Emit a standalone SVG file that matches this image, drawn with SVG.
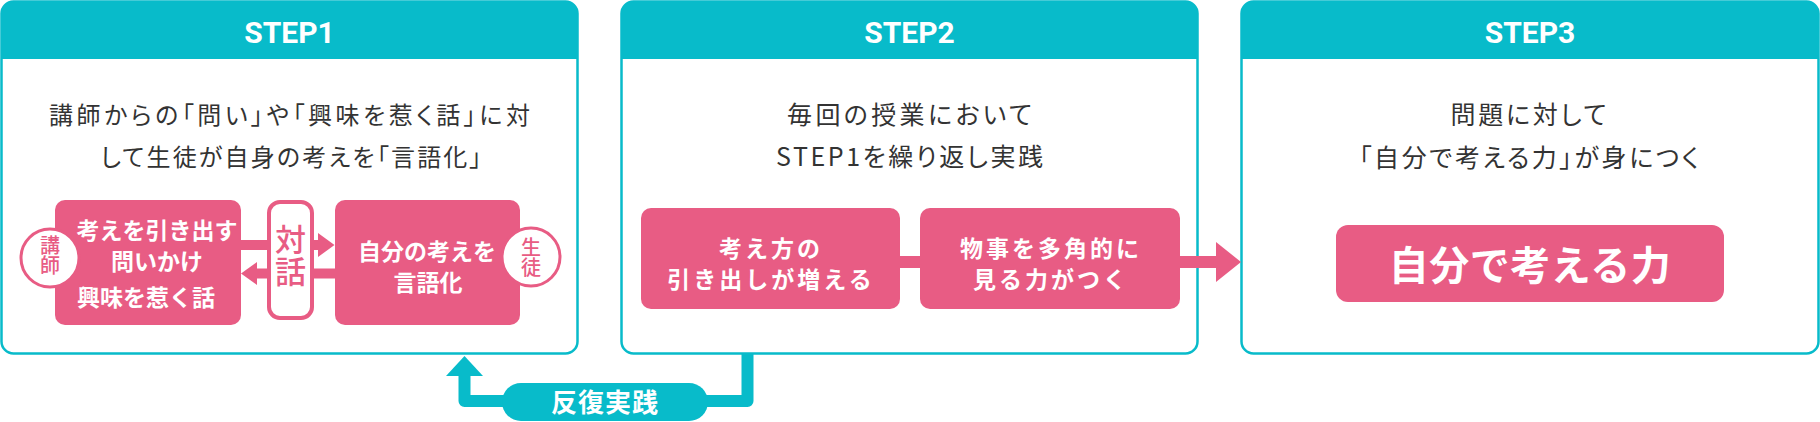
<svg xmlns="http://www.w3.org/2000/svg" width="1820" height="422" viewBox="0 0 1820 422">
<defs>
<style>
.frame{fill:#ffffff;stroke:#08bbca;stroke-width:2.5}
.head{fill:#08bbca}
.htxt{font-family:Roboto,"Liberation Sans",sans-serif;font-weight:700;font-size:30px;fill:#ffffff;text-anchor:middle}
.body{font-family:"Noto Sans CJK JP",sans-serif;font-weight:400;font-size:25px;fill:#333333;text-anchor:middle;font-feature-settings:"palt"}
.s1{font-size:24px}
.pk{fill:#e85c84}
.wt{font-family:"Noto Sans CJK JP",sans-serif;font-weight:700;fill:#ffffff;text-anchor:middle}
.pt{font-family:"Noto Sans CJK JP",sans-serif;font-weight:500;fill:#e85c84;text-anchor:middle;writing-mode:vertical-rl}
.circ{fill:#ffffff;stroke:#e85c84;stroke-width:3}
.teal{fill:#08bbca}
</style>
</defs>
<rect width="1820" height="422" fill="#ffffff"/>

<g id="step1">
<rect class="frame" x="1.5" y="1.5" width="576" height="352" rx="12"/>
<path class="head" d="M1.5 59 V13.5 A12 12 0 0 1 13.5 1.5 H565.5 A12 12 0 0 1 577.5 13.5 V59 Z"/>
<text class="htxt" x="289.5" y="43">STEP1</text>
<text class="body s1" x="289.5" y="123.5" textLength="481" lengthAdjust="spacing">講師からの「問い」や「興味を惹く話」に対</text>
<text class="body s1" x="291" y="166" textLength="381" lengthAdjust="spacing">して生徒が自身の考えを「言語化」</text>
</g>

<g id="step2">
<rect class="frame" x="621.5" y="1.5" width="576" height="352" rx="12"/>
<path class="head" d="M621.5 59 V13.5 A12 12 0 0 1 633.5 1.5 H1185.5 A12 12 0 0 1 1197.5 13.5 V59 Z"/>
<text class="htxt" x="909.5" y="43">STEP2</text>
<text class="body" x="909.5" y="123.5" textLength="245" lengthAdjust="spacing">毎回の授業において</text>
<text class="body" x="909.5" y="166" textLength="267" lengthAdjust="spacing">STEP1を繰り返し実践</text>
</g>

<g id="step3">
<rect class="frame" x="1241.5" y="1.5" width="577" height="352" rx="12"/>
<path class="head" d="M1241.5 59 V13.5 A12 12 0 0 1 1253.5 1.5 H1806.5 A12 12 0 0 1 1818.5 13.5 V59 Z"/>
<text class="htxt" x="1530" y="43">STEP3</text>
<text class="body" x="1528.5" y="123.5" textLength="156" lengthAdjust="spacing">問題に対して</text>
<text class="body" x="1529" y="167" textLength="340" lengthAdjust="spacing">「自分で考える力」が身につく</text>
</g>

<g id="connectors">
<rect class="pk" x="241" y="240" width="79" height="10"/>
<polygon class="pk" points="318,233 334.5,245 318,257"/>
<rect class="pk" x="255" y="268.5" width="81" height="10"/>
<polygon class="pk" points="257,262 241,273.5 257,285"/>
<rect class="pk" x="899" y="256" width="22" height="12"/>
<rect class="pk" x="1179" y="256" width="39" height="12"/>
<polygon class="pk" points="1216,242 1241,262 1216,282"/>
<path d="M747.5 354 V401 H464.5 V374" fill="none" stroke="#08bbca" stroke-width="12" stroke-linejoin="round"/>
<polygon class="teal" points="446,376 464.5,356 483,376"/>
</g>

<g id="teacher-box">
<rect class="pk" x="55" y="200" width="186" height="125" rx="10"/>
<text class="wt" font-size="23" x="157" y="239">考えを引き出す</text>
<text class="wt" font-size="23" x="157" y="270">問いかけ</text>
<text class="wt" font-size="23" x="77" y="306" style="text-anchor:start">興味を惹く話</text>
</g>

<g id="teacher">
<circle class="circ" cx="50" cy="258" r="29"/>
<text class="pt" font-size="20" x="50" y="255">講師</text>
</g>

<g id="dialogue">
<rect x="269" y="202" width="43" height="116" rx="11" fill="#ffffff" stroke="#e85c84" stroke-width="4"/>
<text class="pt" font-size="31" x="290.5" y="256" letter-spacing="1">対話</text>
</g>

<g id="student-box">
<rect class="pk" x="335" y="200" width="185" height="125" rx="10"/>
<text class="wt" font-size="23" x="427" y="260">自分の考えを</text>
<text class="wt" font-size="23" x="428" y="291">言語化</text>
</g>

<g id="student">
<circle class="circ" cx="531" cy="257" r="29"/>
<text class="pt" font-size="20" x="531" y="257.5">生徒</text>
</g>

<g id="step2-a">
<rect class="pk" x="641" y="208" width="259" height="101" rx="10"/>
<text class="wt" font-size="23" x="771" y="256.5" letter-spacing="3">考え方の</text>
<text class="wt" font-size="23" x="771" y="287.5" letter-spacing="3">引き出しが増える</text>
</g>

<g id="step2-b">
<rect class="pk" x="920" y="208" width="260" height="101" rx="10"/>
<text class="wt" font-size="23" x="1051" y="256.5" letter-spacing="3">物事を多角的に</text>
<text class="wt" font-size="23" x="1051" y="287.5" letter-spacing="3">見る力がつく</text>
</g>

<g id="result">
<rect class="pk" x="1336" y="225" width="388" height="77" rx="12"/>
<text class="wt" font-size="40" x="1530" y="280" letter-spacing="0.5">自分で考える力</text>
</g>

<g id="repeat">
<rect class="teal" x="502" y="383" width="206" height="38" rx="19"/>
<text class="wt" font-size="26" x="605" y="412" letter-spacing="1">反復実践</text>
</g>
</svg>
